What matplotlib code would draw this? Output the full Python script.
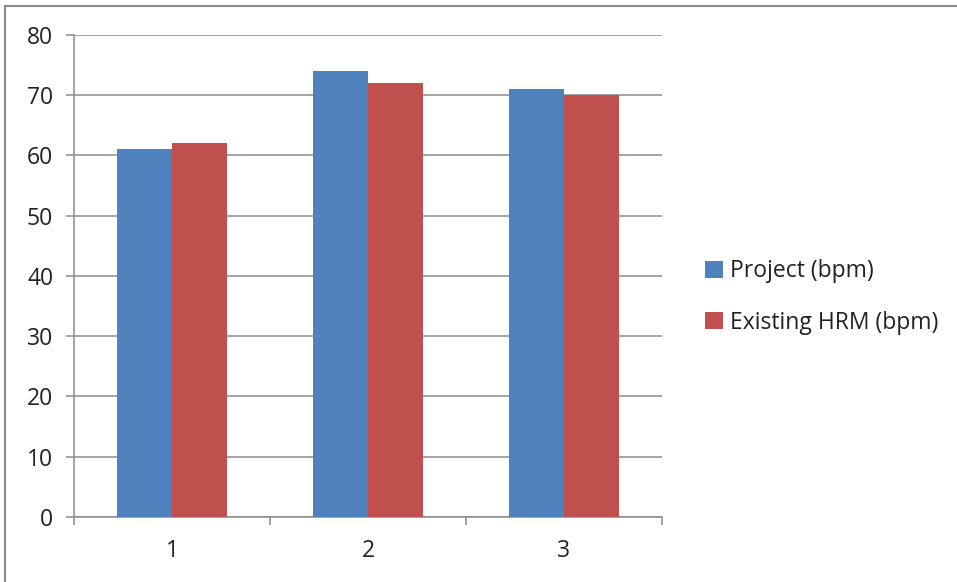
import matplotlib
matplotlib.use("Agg")
import matplotlib.pyplot as plt
import numpy as np
from matplotlib.lines import Line2D
from matplotlib.patches import Patch

categories = ["1", "2", "3"]
series_names = ["Project (bpm)", "Existing HRM (bpm)"]
project = [61, 74, 71]
existing = [62, 72, 70]
yticks = [0, 10, 20, 30, 40, 50, 60, 70, 80]
colors = ["#4F81BD", "#C0504D"]

plt.rcParams['font.family'] = ['Open Sans', 'DejaVu Sans']

W, H = 957, 582
fig = plt.figure(figsize=(W / 100, H / 100), dpi=100)
ax = fig.add_axes([74 / W, 1 - 517 / H, (662 - 74) / W, (517 - 35) / H])

x = np.arange(len(categories))
bw = 0.283
ax.bar(x - bw / 2, project, bw, color=colors[0], zorder=3, label=series_names[0])
ax.bar(x + bw / 2, existing, bw, color=colors[1], zorder=3, label=series_names[1])

ax.set_xlim(-0.5, len(categories) - 0.5)
ax.set_ylim(0, 80)
ax.set_yticks(yticks)
ax.set_yticklabels([str(v) for v in yticks], fontsize=16.5, color="#222222")
ax.yaxis.grid(True, color="#8c8c8c", linewidth=1.1, zorder=0)
ax.set_axisbelow(True)

ax.set_xticks(x)
ax.set_xticklabels(categories, fontsize=16.5, color="#222222")
ax.tick_params(axis='x', length=0, pad=16)
ax.tick_params(axis='y', length=6, width=1.1, color="#8c8c8c", pad=9)
# category boundary tick marks
ax.set_xticks(np.arange(-0.5, len(categories)), minor=True)
ax.tick_params(axis='x', which='minor', length=6, width=1.1, color="#8c8c8c")

for s in ["top", "right"]:
    ax.spines[s].set_visible(False)
for s in ["left", "bottom"]:
    ax.spines[s].set_color("#8c8c8c")
    ax.spines[s].set_linewidth(1.1)

handles = [Patch(facecolor=c, edgecolor='none') for c in colors]
leg = fig.legend(handles, series_names, loc="center left",
                 bbox_to_anchor=(694 / W, 1 - 297 / H), frameon=False,
                 fontsize=16.5, handlelength=0.75, handleheight=0.75,
                 handletextpad=0.3, labelspacing=1.2, borderpad=0)
for t in leg.get_texts():
    t.set_color("#222222")

# outer frame
fig.add_artist(Line2D([5 / W, 5 / W], [0, 1 - 6 / H], transform=fig.transFigure,
                      color="#8a8a8a", linewidth=1.5))
fig.add_artist(Line2D([5 / W, 1], [1 - 6 / H, 1 - 6 / H], transform=fig.transFigure,
                      color="#8a8a8a", linewidth=1.5))

fig.savefig("out.png", dpi=100)
